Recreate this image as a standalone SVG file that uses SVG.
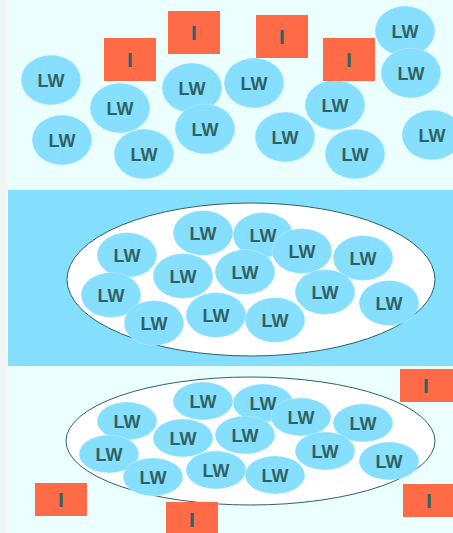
<svg xmlns="http://www.w3.org/2000/svg" width="453" height="533" viewBox="0 0 453 533">
<style>
.lw{fill:#87dfff;stroke:#ffffff;stroke-width:0.8;stroke-opacity:0.35}
.i{fill:#ff6b47}
.t{font-family:"Liberation Sans",Arial,sans-serif;font-weight:bold;font-size:18px;fill:#2f6262;text-anchor:middle}
.ti{font-family:"Liberation Sans",Arial,sans-serif;font-weight:bold;font-size:21px;fill:#2f6262;text-anchor:middle}
.cell{fill:#ffffff;stroke:#2f6262;stroke-width:1}
</style>
<rect x="0" y="0" width="453" height="533" fill="#f4f6f6"/>
<rect x="7" y="0" width="446" height="533" fill="#ebffff"/>
<rect id="panel-middle" x="8" y="190" width="445" height="176" fill="#84dfff"/>
<g id="connectors"/>
<!-- top panel -->
<g id="top">
<g id="t-lw1"><ellipse class="lw" cx="51" cy="80" rx="30" ry="25"/><text class="t" x="51" y="86.5">LW</text></g>
<g id="t-lw2"><ellipse class="lw" cx="62" cy="140" rx="30" ry="25"/><text class="t" x="62" y="146.5">LW</text></g>
<g id="t-lw3"><ellipse class="lw" cx="120" cy="108" rx="30" ry="25"/><text class="t" x="120" y="114.5">LW</text></g>
<g id="t-lw4"><ellipse class="lw" cx="144" cy="154" rx="30" ry="25"/><text class="t" x="144" y="160.5">LW</text></g>
<g id="t-lw5"><ellipse class="lw" cx="192" cy="88" rx="30" ry="25"/><text class="t" x="192" y="94.5">LW</text></g>
<g id="t-lw6"><ellipse class="lw" cx="205" cy="129" rx="30" ry="25"/><text class="t" x="205" y="135.5">LW</text></g>
<g id="t-lw7"><ellipse class="lw" cx="254" cy="83" rx="30" ry="25"/><text class="t" x="254" y="89.5">LW</text></g>
<g id="t-lw8"><ellipse class="lw" cx="285" cy="137" rx="30" ry="25"/><text class="t" x="285" y="143.5">LW</text></g>
<g id="t-lw9"><ellipse class="lw" cx="335" cy="105" rx="30" ry="25"/><text class="t" x="335" y="111.5">LW</text></g>
<g id="t-lw10"><ellipse class="lw" cx="355" cy="154" rx="30" ry="25"/><text class="t" x="355" y="160.5">LW</text></g>
<g id="t-lw11"><ellipse class="lw" cx="405" cy="31" rx="30" ry="25"/><text class="t" x="405" y="37.5">LW</text></g>
<g id="t-lw12"><ellipse class="lw" cx="411" cy="73" rx="30" ry="25"/><text class="t" x="411" y="79.5">LW</text></g>
<g id="t-lw13"><ellipse class="lw" cx="432" cy="135" rx="30" ry="25"/><text class="t" x="432" y="141.5">LW</text></g>
<g id="t-i1"><rect class="i" x="104" y="38" width="52" height="43"/><text class="ti" x="130" y="67">I</text></g>
<g id="t-i2"><rect class="i" x="168" y="11" width="52" height="43"/><text class="ti" x="194" y="40">I</text></g>
<g id="t-i3"><rect class="i" x="256" y="15" width="52" height="43"/><text class="ti" x="282" y="44">I</text></g>
<g id="t-i4"><rect class="i" x="323" y="38" width="52" height="43"/><text class="ti" x="349" y="67">I</text></g>
</g>
<!-- middle panel -->
<g id="middle">
<g id="m-cell"><ellipse class="cell" cx="251" cy="279.5" rx="184" ry="76.5"/></g>
<g id="m-lw1"><ellipse class="lw" cx="203" cy="233" rx="30" ry="22.5"/><text class="t" x="203" y="239.5">LW</text></g>
<g id="m-lw2"><ellipse class="lw" cx="263" cy="235" rx="30" ry="22.5"/><text class="t" x="263" y="241.5">LW</text></g>
<g id="m-lw3"><ellipse class="lw" cx="127" cy="255" rx="30" ry="22.5"/><text class="t" x="127" y="261.5">LW</text></g>
<g id="m-lw4"><ellipse class="lw" cx="302" cy="251" rx="30" ry="22.5"/><text class="t" x="302" y="257.5">LW</text></g>
<g id="m-lw5"><ellipse class="lw" cx="363" cy="258" rx="30" ry="22.5"/><text class="t" x="363" y="264.5">LW</text></g>
<g id="m-lw6"><ellipse class="lw" cx="183" cy="276" rx="30" ry="22.5"/><text class="t" x="183" y="282.5">LW</text></g>
<g id="m-lw7"><ellipse class="lw" cx="245" cy="272" rx="30" ry="22.5"/><text class="t" x="245" y="278.5">LW</text></g>
<g id="m-lw8"><ellipse class="lw" cx="111" cy="295" rx="30" ry="22.5"/><text class="t" x="111" y="301.5">LW</text></g>
<g id="m-lw9"><ellipse class="lw" cx="325" cy="292" rx="30" ry="22.5"/><text class="t" x="325" y="298.5">LW</text></g>
<g id="m-lw10"><ellipse class="lw" cx="389" cy="303" rx="30" ry="22.5"/><text class="t" x="389" y="309.5">LW</text></g>
<g id="m-lw11"><ellipse class="lw" cx="154" cy="323" rx="30" ry="22.5"/><text class="t" x="154" y="329.5">LW</text></g>
<g id="m-lw12"><ellipse class="lw" cx="216" cy="315" rx="30" ry="22.5"/><text class="t" x="216" y="321.5">LW</text></g>
<g id="m-lw13"><ellipse class="lw" cx="275" cy="320" rx="30" ry="22.5"/><text class="t" x="275" y="326.5">LW</text></g>
</g>
<!-- bottom panel -->
<g id="bottom">
<g id="b-cell"><ellipse class="cell" cx="250.5" cy="441" rx="184.5" ry="64"/></g>
<g id="b-lw1"><ellipse class="lw" cx="203" cy="401" rx="30" ry="19"/><text class="t" x="203" y="407.5">LW</text></g>
<g id="b-lw2"><ellipse class="lw" cx="263" cy="403" rx="30" ry="19"/><text class="t" x="263" y="409.5">LW</text></g>
<g id="b-lw3"><ellipse class="lw" cx="127" cy="421" rx="30" ry="19"/><text class="t" x="127" y="427.5">LW</text></g>
<g id="b-lw4"><ellipse class="lw" cx="301" cy="417" rx="30" ry="19"/><text class="t" x="301" y="423.5">LW</text></g>
<g id="b-lw5"><ellipse class="lw" cx="363" cy="423" rx="30" ry="19"/><text class="t" x="363" y="429.5">LW</text></g>
<g id="b-lw6"><ellipse class="lw" cx="183" cy="438" rx="30" ry="19"/><text class="t" x="183" y="444.5">LW</text></g>
<g id="b-lw7"><ellipse class="lw" cx="245" cy="435" rx="30" ry="19"/><text class="t" x="245" y="441.5">LW</text></g>
<g id="b-lw8"><ellipse class="lw" cx="109" cy="454" rx="30" ry="19"/><text class="t" x="109" y="460.5">LW</text></g>
<g id="b-lw9"><ellipse class="lw" cx="325" cy="451" rx="30" ry="19"/><text class="t" x="325" y="457.5">LW</text></g>
<g id="b-lw10"><ellipse class="lw" cx="389" cy="461" rx="30" ry="19"/><text class="t" x="389" y="467.5">LW</text></g>
<g id="b-lw11"><ellipse class="lw" cx="153" cy="477" rx="30" ry="19"/><text class="t" x="153" y="483.5">LW</text></g>
<g id="b-lw12"><ellipse class="lw" cx="216" cy="470" rx="30" ry="19"/><text class="t" x="216" y="476.5">LW</text></g>
<g id="b-lw13"><ellipse class="lw" cx="275" cy="475" rx="30" ry="19"/><text class="t" x="275" y="481.5">LW</text></g>
<g id="b-i1"><rect class="i" x="400" y="369" width="53" height="33"/><text class="ti" x="426" y="393">I</text></g>
<g id="b-i2"><rect class="i" x="403" y="484" width="50" height="33"/><text class="ti" x="429" y="508">I</text></g>
<g id="b-i3"><rect class="i" x="35" y="483" width="52" height="33"/><text class="ti" x="61" y="507">I</text></g>
<g id="b-i4"><rect class="i" x="166" y="502" width="52" height="33"/><text class="ti" x="192" y="527">I</text></g>
</g>
</svg>
